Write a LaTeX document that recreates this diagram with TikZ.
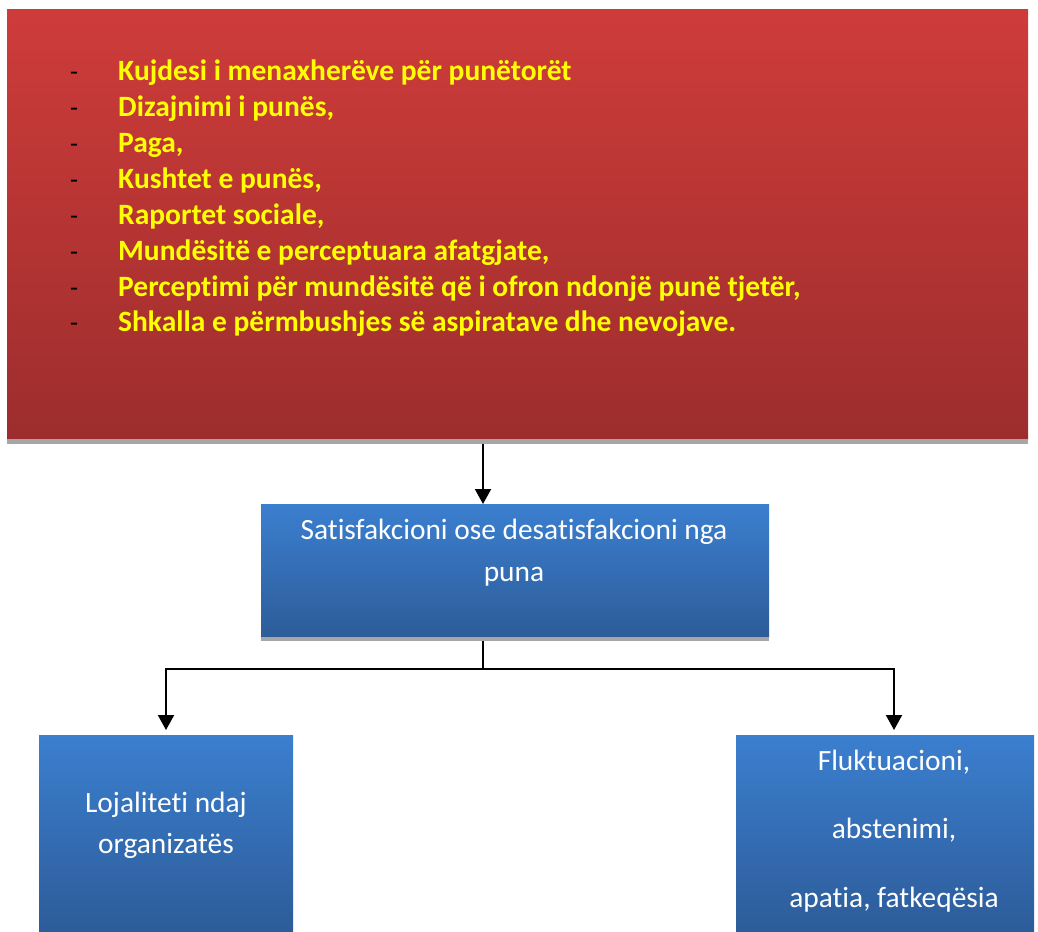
\documentclass[tikz,border=0pt]{standalone}
\usepackage{fontspec}
\setmainfont{Carlito}[Ligatures=NoCommon]
\usetikzlibrary{arrows.meta,calc}

\definecolor{redtop}{RGB}{206,60,58}
\definecolor{redbot}{RGB}{157,45,45}
\definecolor{bluetop}{RGB}{59,127,207}
\definecolor{bluebot}{RGB}{45,92,153}
\definecolor{shadowgray}{RGB}{166,166,166}
\definecolor{itemyellow}{RGB}{255,255,0}

\begin{document}
\begin{tikzpicture}[x=1pt,y=-1pt,
  box/.style={draw=none, rectangle, inner sep=0pt, outer sep=0pt, anchor=north west},
  redbox/.style={box, top color=redtop, bottom color=redbot},
  bluebox/.style={box, top color=bluetop, bottom color=bluebot},
  shadowstrip/.style={box, fill=shadowgray},
  bodyfont/.style={font=\fontsize{29.4}{35.8}\selectfont},
  itemtext/.style={anchor=base west, inner sep=0pt, text=itemyellow, font=\fontsize{29.5}{35.8}\selectfont\bfseries},
  dashmark/.style={anchor=base west, inner sep=0pt, text=black, font=\fontsize{26}{30}\selectfont},
  boxlabel/.style={anchor=base, inner sep=0pt, text=white, bodyfont},
  link/.style={line width=2pt, draw=black},
  conn/.style={link, -{Triangle[width=16pt,length=15pt]}},
]
\useasboundingbox (0,0) rectangle (1038,931);

% factors box
\node[redbox, minimum width=1021pt, minimum height=429pt] (factors) at (7,10) {};
\node[shadowstrip, minimum width=1021pt, minimum height=5pt] (factorsshadow) at (7,439) {};

\foreach \t [count=\k] in {
  Kujdesi i menaxherëve për punëtorët,
  {Dizajnimi i punës,},
  {Paga,},
  {Kushtet e punës,},
  {Raportet sociale,},
  {Mundësitë e perceptuara afatgjate,},
  {Perceptimi për mundësitë që i ofron ndonjë punë tjetër,},
  {Shkalla e përmbushjes së aspiratave dhe nevojave.}} {
  \node[dashmark] (d\k) at (70, {81+35.85*(\k-1)}) {-};
  \node[itemtext] (i\k) at (118, {81+35.85*(\k-1)}) {\t};
}

% satisfaction box
\node[bluebox, minimum width=508pt, minimum height=133pt] (satisf) at (261,504) {};
\node[shadowstrip, minimum width=508pt, minimum height=4pt] (satisfshadow) at (261,637) {};
\node[boxlabel] (s1) at (514,539) {Satisfakcioni ose desatisfakcioni nga};
\node[boxlabel] (s2) at (514,581) {puna};

% outcome boxes
\node[bluebox, minimum width=254pt, minimum height=196pt] (loyal) at (39,735) {};
\node[boxlabel] (l1) at (166,812) {Lojaliteti ndaj};
\node[boxlabel] (l2) at (166,853) {organizatës};

\node[bluebox, minimum width=298pt, minimum height=196pt] (fluct) at (736,735) {};
\node[boxlabel] (f1) at (894,770) {Fluktuacioni,};
\node[boxlabel] (f2) at (894,838) {abstenimi,};
\node[boxlabel] (f3) at (894,907) {apatia, fatkeqësia};

% connectors
\coordinate (trunk) at (483,0);
\coordinate (fork) at (483,669);
\coordinate (lefttip) at (166,730);
\coordinate (righttip) at (894,730);

\draw[conn] (trunk |- factorsshadow.south) -- (trunk |- satisf.north);
\draw[link] (trunk |- satisfshadow.south) -- (fork);
\draw[conn] (fork) -| (lefttip);
\draw[conn] (fork) -| (righttip);
\end{tikzpicture}
\end{document}
